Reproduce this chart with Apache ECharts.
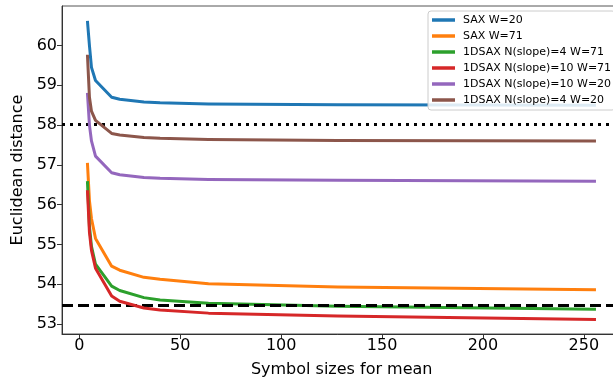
<!DOCTYPE html>
<html>
<head>
<meta charset="utf-8">
<script src="https://cdn.jsdelivr.net/npm/echarts@6/dist/echarts.min.js"></script>
<style>
html,body{margin:0;padding:0;background:#fff;}
#chart{width:613px;height:381px;}
</style>
</head>
<body>
<div id="chart"></div>
<script>
const xValues = [4, 5, 6, 8, 16, 20, 32, 40, 64, 128, 256];
const seriesNames = ['SAX W=20', 'SAX W=71', '1DSAX N(slope)=4 W=71', '1DSAX N(slope)=10 W=71', '1DSAX N(slope)=10 W=20', '1DSAX N(slope)=4 W=20'];
const saxW20 = [60.62, 60.0, 59.45, 59.12, 58.70, 58.65, 58.58, 58.56, 58.53, 58.51, 58.50];
const saxW71 = [57.05, 56.1, 55.65, 55.15, 54.45, 54.35, 54.17, 54.12, 54.01, 53.93, 53.86];
const d1N4W71 = [56.59, 55.45, 54.95, 54.5, 53.95, 53.84, 53.66, 53.6, 53.52, 53.44, 53.37];
const d1N10W71 = [56.36, 55.3, 54.85, 54.4, 53.7, 53.57, 53.4, 53.35, 53.27, 53.2, 53.11];
const d1N10W20 = [58.81, 58.0, 57.6, 57.22, 56.80, 56.75, 56.68, 56.66, 56.63, 56.61, 56.59];
const d1N4W20 = [59.77, 58.7, 58.35, 58.12, 57.79, 57.75, 57.69, 57.67, 57.64, 57.61, 57.60];
const dottedLevel = 58.03;
const dashedLevel = 53.47;
const xTicks = [0, 50, 100, 150, 200, 250];
const yTicks = [53, 54, 55, 56, 57, 58, 59, 60];

const colors = ['#1f77b4', '#ff7f0e', '#2ca02c', '#d62728', '#9467bd', '#8c564b'];
const allValues = [saxW20, saxW71, d1N4W71, d1N10W71, d1N10W20, d1N4W20];
const font = 'DejaVu Sans';

const chart = echarts.init(document.getElementById('chart'), null, {renderer: 'canvas'});
const series = allValues.map((vals, i) => ({
  name: seriesNames[i],
  type: 'line',
  data: xValues.map((x, j) => [x, vals[j]]),
  showSymbol: false,
  symbol: 'none',
  lineStyle: {color: colors[i], width: 3, join: 'round'},
  itemStyle: {color: colors[i]},
  emphasis: {disabled: true},
  z: 2 + i
}));
series.push({
  type: 'line',
  data: [],
  silent: true,
  z: 20,
  markLine: {
    silent: true,
    symbol: ['none', 'none'],
    label: {show: false},
    animation: false,
    data: [
      {yAxis: dottedLevel, lineStyle: {color: '#000', width: 3, type: [3, 5], cap: 'butt'}},
      {yAxis: dashedLevel, lineStyle: {color: '#000', width: 3, type: [11, 5], cap: 'butt'}}
    ]
  }
});

chart.setOption({
  animation: false,
  backgroundColor: '#fff',
  grid: {left: 62, right: -8.4, top: 6, bottom: 47, show: true, borderColor: '#555', borderWidth: 1, containLabel: false, outerBoundsMode: 'none'},
  legend: {
    data: seriesNames,
    orient: 'vertical',
    left: 428,
    top: 11,
    padding: [3, 4, 4, 4],
    itemWidth: 23,
    itemHeight: 3.5,
    itemGap: 4,
    icon: 'rect',
    backgroundColor: 'rgba(255,255,255,0.85)',
    borderColor: '#cccccc',
    borderWidth: 1,
    borderRadius: 3,
    textStyle: {fontFamily: font, fontSize: 11, color: '#000', lineHeight: 12, padding: [0, 0, 0, 3]}
  },
  xAxis: {
    type: 'value',
    min: -8.6,
    max: 268.6,
    name: 'Symbol sizes for mean',
    nameLocation: 'middle',
    nameGap: 28,
    nameTextStyle: {fontFamily: font, fontSize: 16, color: '#000'},
    axisLine: {show: true, onZero: false, lineStyle: {color: '#333', width: 1}},
    axisTick: {show: true, length: 5, lineStyle: {color: '#333'}, customValues: xTicks},
    axisLabel: {fontFamily: font, fontSize: 16, color: '#000', margin: 4, customValues: xTicks},
    splitLine: {show: false}
  },
  yAxis: {
    type: 'value',
    min: 52.745,
    max: 60.995,
    name: 'Euclidean distance',
    nameLocation: 'middle',
    nameGap: 34,
    nameRotate: 90,
    nameTextStyle: {fontFamily: font, fontSize: 16, color: '#000'},
    axisLine: {show: true, onZero: false, lineStyle: {color: '#333', width: 1}},
    axisTick: {show: true, length: 5, lineStyle: {color: '#333'}, customValues: yTicks},
    axisLabel: {fontFamily: font, fontSize: 16, color: '#000', margin: 5, customValues: yTicks},
    splitLine: {show: false}
  },
  series: series
});
</script>
</body>
</html>
